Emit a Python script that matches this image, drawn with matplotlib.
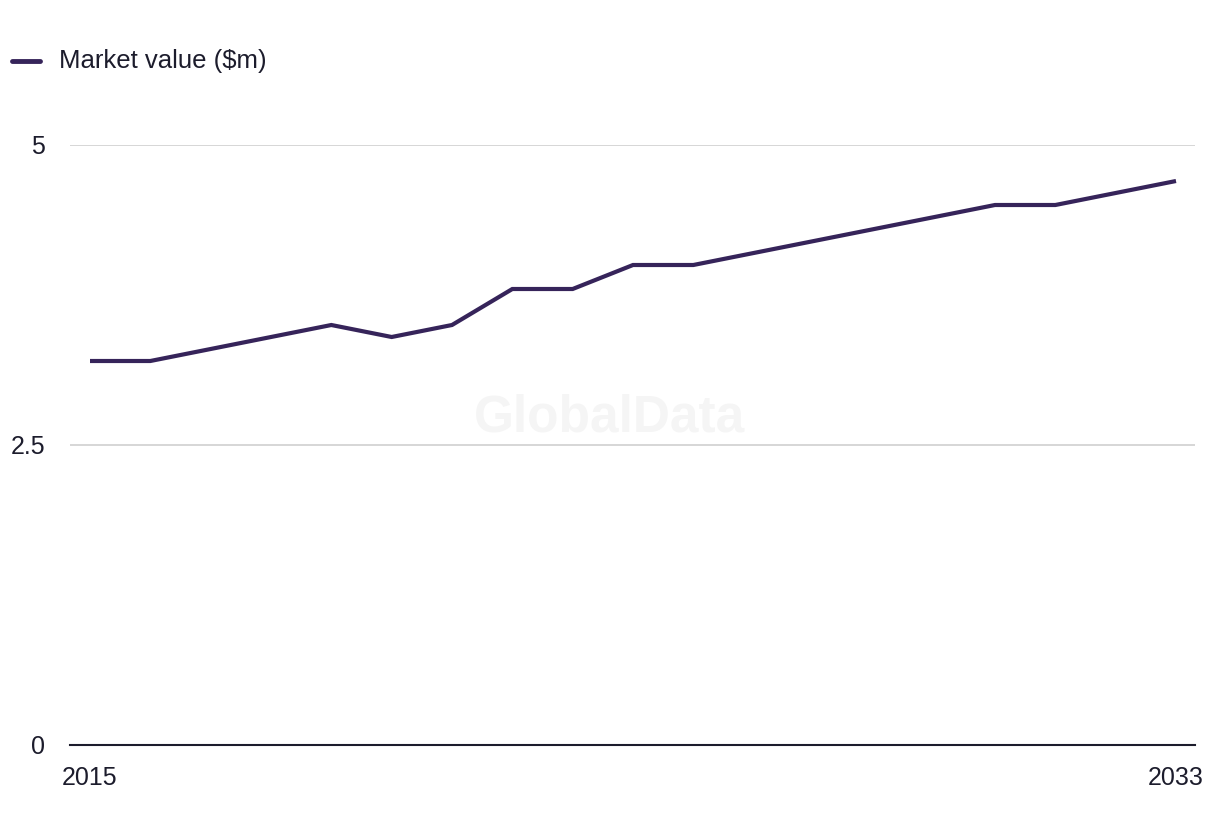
import matplotlib.pyplot as plt

years = list(range(2015, 2034))
market_value = [3.2, 3.2, 3.3, 3.4, 3.5, 3.4, 3.5, 3.8, 3.8, 4.0,
                4.0, 4.1, 4.2, 4.3, 4.4, 4.5, 4.5, 4.6, 4.7]
series_label = "Market value ($m)"
y_ticks = [0, 2.5, 5]
y_tick_labels = ["0", "2.5", "5"]
x_ticks = [2015, 2033]

line_color = "#36245a"
text_color = "#1c1c2c"

plt.rcParams['font.family'] = ['Liberation Sans', 'DejaVu Sans']

fig = plt.figure(figsize=(12.2, 8.36), dpi=100)
ax = fig.add_axes([70 / 1220, 1 - 745 / 836, 1125 / 1220, 600 / 836])

ax.plot(years, market_value, color=line_color, lw=3, solid_capstyle="butt",
        solid_joinstyle="miter", clip_on=False)

ax.set_xlim(2015 - 20 / 60.33, 2033 + 19 / 60.33)
ax.set_ylim(0, 5)
ax.set_yticks(y_ticks, y_tick_labels)
ax.set_xticks(x_ticks, [str(x) for x in x_ticks])

for y in y_ticks[1:]:
    ax.axhline(y, color="#d6d6d6", lw=1.4, zorder=0)

for side in ("top", "right", "left"):
    ax.spines[side].set_visible(False)
ax.spines["bottom"].set_color(text_color)
ax.spines["bottom"].set_linewidth(1.5)

ax.tick_params(axis="y", length=0, pad=18, labelsize=18, labelcolor=text_color)
ax.tick_params(axis="x", length=0, pad=15, labelsize=18, labelcolor=text_color)

# watermark
fig.text(610 / 1220, 1 - 418 / 836, "GlobalData", ha="center", va="center",
         fontsize=37, fontweight="bold", color="#f5f5f5", zorder=0)

# legend
fig.add_artist(plt.Line2D([12 / 1220, 40 / 1220], [1 - 61 / 836] * 2,
                          color=line_color, lw=3.5, solid_capstyle="round"))
fig.text(59 / 1220, 1 - 61 / 836, series_label, ha="left", va="center",
         fontsize=18.5, color=text_color)

fig.savefig("out.png", dpi=100)
